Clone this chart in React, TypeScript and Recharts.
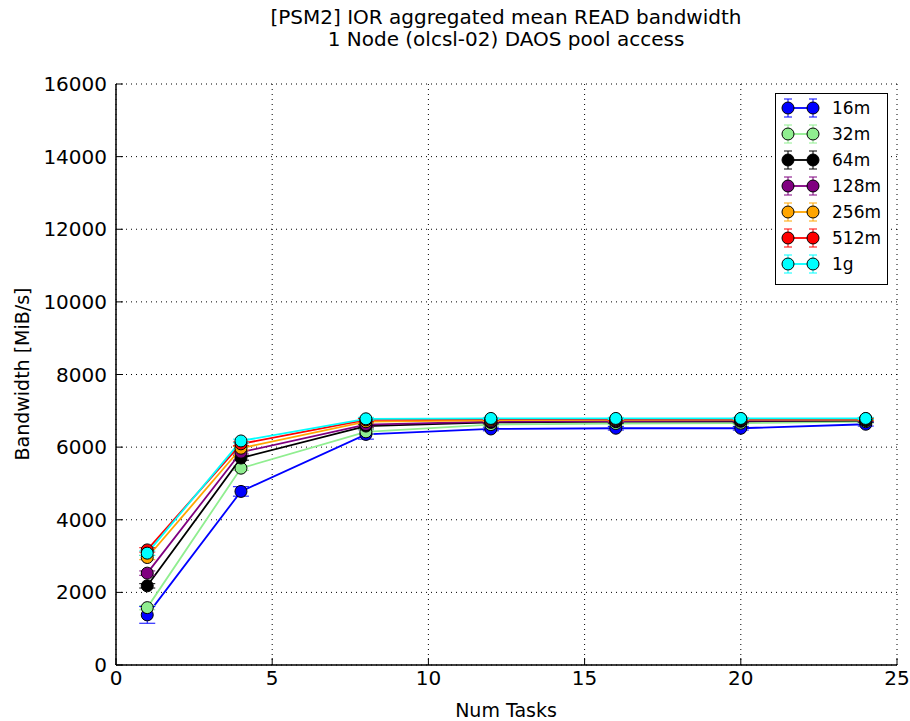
import React from 'react'
import { LineChart, Line, XAxis, YAxis, CartesianGrid, ErrorBar, Legend } from 'recharts'

const NUM_TASKS = [1, 4, 8, 12, 16, 20, 24]

const SIZES = ['16m', '32m', '64m', '128m', '256m', '512m', '1g']
const COLORS = ['#0000ff', '#90ee90', '#000000', '#800080', '#ffa500', '#ff0000', '#00ffff']

const BW_16M = [1380, 4780, 6350, 6500, 6520, 6520, 6630]
const BW_32M = [1580, 5420, 6420, 6620, 6650, 6660, 6700]
const BW_64M = [2180, 5700, 6580, 6680, 6700, 6710, 6730]
const BW_128M = [2530, 5860, 6620, 6700, 6720, 6730, 6750]
const BW_256M = [2960, 5970, 6700, 6740, 6750, 6760, 6760]
const BW_512M = [3170, 6090, 6750, 6770, 6770, 6780, 6780]
const BW_1G = [3080, 6170, 6780, 6790, 6790, 6790, 6790]

const ERR_16M = [230, 130, 130, 50, 50, 50, 50]
const ERR_32M = [60, 60, 60, 40, 40, 40, 40]
const ERR_64M = [60, 60, 50, 40, 40, 40, 40]
const ERR_128M = [60, 50, 50, 40, 40, 40, 40]
const ERR_256M = [60, 50, 40, 30, 30, 30, 30]
const ERR_512M = [60, 50, 40, 30, 30, 30, 30]
const ERR_1G = [60, 50, 40, 30, 30, 30, 30]

const X_TICKS = [0, 5, 10, 15, 20, 25]
const Y_TICKS = [0, 2000, 4000, 6000, 8000, 10000, 12000, 14000, 16000]

const SERIES = [BW_16M, BW_32M, BW_64M, BW_128M, BW_256M, BW_512M, BW_1G]
const ERRORS = [ERR_16M, ERR_32M, ERR_64M, ERR_128M, ERR_256M, ERR_512M, ERR_1G]

const data = NUM_TASKS.map((n, i) => {
  const row: Record<string, number> = { tasks: n }
  SIZES.forEach((s, k) => {
    row[s] = SERIES[k][i]
    row[s + '_err'] = ERRORS[k][i]
  })
  return row
})

const FONT = "'DejaVu Sans', sans-serif"
const tickStyle = { fontSize: 20, fill: '#000', fontFamily: FONT }

function LegendBox() {
  const rowH = 26
  return (
    <svg width={113} height={192} style={{ display: 'block' }}>
      <rect x={0.5} y={0.5} width={112} height={191} fill="#fff" stroke="#000" strokeWidth={1} />
      {SIZES.map((s, i) => {
        const y = 15 + i * rowH
        const c = COLORS[i]
        return (
          <g key={s}>
            <line x1={13} x2={38} y1={y} y2={y} stroke={c} strokeWidth={1.8} />
            {[13, 38].map((x) => (
              <g key={x}>
                <line x1={x} x2={x} y1={y - 9} y2={y + 9} stroke={c} strokeWidth={1} />
                <line x1={x - 4} x2={x + 4} y1={y - 9} y2={y - 9} stroke={c} strokeWidth={1} />
                <line x1={x - 4} x2={x + 4} y1={y + 9} y2={y + 9} stroke={c} strokeWidth={1} />
                <circle cx={x} cy={y} r={6} fill={c} stroke="#000" strokeWidth={1} />
              </g>
            ))}
            <text x={57} y={y + 6} fontSize={17} fontFamily={FONT} fill="#000">
              {s}
            </text>
          </g>
        )
      })}
    </svg>
  )
}

export default function App() {
  return (
    <div style={{ position: 'absolute', left: 0, top: 0, width: 910, height: 721, background: '#fff' }}>
      <div
        style={{
          position: 'absolute',
          left: 106,
          width: 800,
          top: 6,
          textAlign: 'center',
          fontFamily: FONT,
          fontSize: 20,
          lineHeight: '22px',
          color: '#000',
        }}
      >
        [PSM2] IOR aggregated mean READ bandwidth
        <br />1 Node (olcsl-02) DAOS pool access
      </div>
      <LineChart
        width={910}
        height={721}
        data={data}
        margin={{ top: 84, right: 13, left: 36, bottom: 6 }}
      >
        <CartesianGrid stroke="#000" strokeDasharray="1 4" strokeWidth={1} />
        <XAxis
          dataKey="tasks"
          type="number"
          domain={[0, 25]}
          ticks={X_TICKS}
          height={50}
          tick={tickStyle}
          tickSize={-7}
          tickMargin={13}
          axisLine={{ stroke: '#000', strokeWidth: 1.5 }}
          tickLine={{ stroke: '#000' }}
        />
        <XAxis
          xAxisId="top"
          orientation="top"
          type="number"
          domain={[0, 25]}
          ticks={X_TICKS}
          height={0}
          tickSize={-7}
          tickFormatter={() => ''}
          axisLine={{ stroke: '#000', strokeWidth: 1.5 }}
          tickLine={{ stroke: '#000' }}
        />
        <YAxis
          type="number"
          domain={[0, 16000]}
          ticks={Y_TICKS}
          width={80}
          tick={tickStyle}
          tickSize={-7}
          tickMargin={16}
          axisLine={{ stroke: '#000', strokeWidth: 1.5 }}
          tickLine={{ stroke: '#000' }}
        />
        <YAxis
          yAxisId="right"
          orientation="right"
          type="number"
          domain={[0, 16000]}
          ticks={Y_TICKS}
          width={0}
          tickSize={-7}
          tickFormatter={() => ''}
          axisLine={{ stroke: '#000', strokeWidth: 1.5 }}
          tickLine={{ stroke: '#000' }}
        />
        {SIZES.map((s, k) => (
          <Line
            key={s}
            dataKey={s}
            stroke={COLORS[k]}
            strokeWidth={1.8}
            dot={{ r: 6, fill: COLORS[k], stroke: '#000', strokeWidth: 1 }}
            isAnimationActive={false}
          >
            <ErrorBar dataKey={s + '_err'} width={8} stroke={COLORS[k]} strokeWidth={1} direction="y" />
          </Line>
        ))}
        <Legend
          layout="vertical"
          align="center"
          verticalAlign="middle"
          wrapperStyle={{ position: 'absolute', left: 775, top: 93, width: 113 }}
          content={() => <LegendBox />}
        />
      </LineChart>
      <div
        style={{
          position: 'absolute',
          left: 106,
          width: 800,
          top: 699,
          textAlign: 'center',
          fontFamily: FONT,
          fontSize: 19,
          color: '#000',
        }}
      >
        Num Tasks
      </div>
      <div
        style={{
          position: 'absolute',
          left: 22,
          top: 374,
          transform: 'translate(-50%, -50%) rotate(-90deg)',
          whiteSpace: 'nowrap',
          fontFamily: FONT,
          fontSize: 19,
          color: '#000',
        }}
      >
        Bandwidth [MiB/s]
      </div>
    </div>
  )
}
